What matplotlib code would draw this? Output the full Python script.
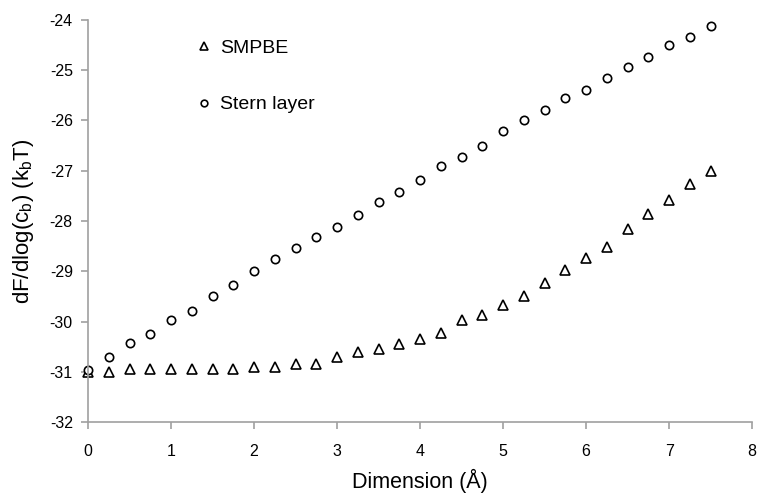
import matplotlib
matplotlib.use("Agg")
import matplotlib.pyplot as plt

plt.rcParams['font.family'] = ['Liberation Sans', 'DejaVu Sans']
plt.rcParams['mathtext.fontset'] = 'custom'
plt.rcParams['mathtext.rm'] = 'Liberation Sans'

dimension = [0, 0.25, 0.5, 0.75, 1, 1.25, 1.5, 1.75, 2, 2.25, 2.5, 2.75, 3, 3.25, 3.5, 3.75,
             4, 4.25, 4.5, 4.75, 5, 5.25, 5.5, 5.75, 6, 6.25, 6.5, 6.75, 7, 7.25, 7.5]
smpbe = [-31.0, -31.0, -30.95, -30.95, -30.95, -30.95, -30.95, -30.95, -30.9, -30.9, -30.85, -30.85,
         -30.7, -30.6, -30.55, -30.45, -30.35, -30.22, -29.97, -29.88, -29.68, -29.49, -29.23,
         -28.98, -28.73, -28.51, -28.15, -27.87, -27.59, -27.27, -27.0]
stern = [-30.96, -30.7, -30.42, -30.24, -29.96, -29.8, -29.5, -29.28, -29.0, -28.76, -28.54, -28.32,
         -28.12, -27.88, -27.62, -27.42, -27.18, -26.9, -26.72, -26.5, -26.22, -26.0, -25.8, -25.56,
         -25.4, -25.16, -24.94, -24.74, -24.5, -24.34, -24.12]
series_labels = ['SMPBE', 'Stern layer']
xticks = [0, 1, 2, 3, 4, 5, 6, 7, 8]
yticks = [-32, -31, -30, -29, -28, -27, -26, -25, -24]

fig = plt.figure(figsize=(7.59, 4.96), dpi=100)
ax = fig.add_axes([0.116, 0.149, 0.875, 0.811])

ax.plot(dimension, smpbe, linestyle='none', marker='^', markersize=7, markerfacecolor='white',
        markeredgecolor='black', markeredgewidth=1.2, label=series_labels[0], clip_on=False)
ax.plot(dimension, stern, linestyle='none', marker='o', markersize=6, markerfacecolor='white',
        markeredgecolor='black', markeredgewidth=1.2, label=series_labels[1], clip_on=False)

ax.set_xlim(0, 8)
ax.set_ylim(-32, -24)
ax.set_xticks(xticks)
ax.set_yticks(yticks)
ax.set_xticklabels([str(v) for v in xticks])
ax.set_yticklabels([str(v) for v in yticks])

for s in ['top', 'right']:
    ax.spines[s].set_visible(False)
for s in ['left', 'bottom']:
    ax.spines[s].set_color('#a0a0a0')
    ax.spines[s].set_linewidth(1.2)
ax.tick_params(axis='both', direction='out', length=5, width=1.2, color='#a0a0a0',
               labelsize=11.5, labelcolor='black')
ax.tick_params(axis='x', pad=11)
ax.tick_params(axis='y', pad=6)

ax.set_xlabel('Dimension (Å)', fontsize=15.5, labelpad=7)
ax.set_ylabel(r'dF/dlog(c$_\mathrm{b}$) (k$_\mathrm{b}$T)', fontsize=16, labelpad=10)

ax.legend(loc='upper left', bbox_to_anchor=(0.14, 0.995), frameon=False, fontsize=14,
          labelspacing=2.0, handlelength=0.6, handletextpad=0.5, markerscale=0.8)

fig.savefig('out.png', dpi=100)
